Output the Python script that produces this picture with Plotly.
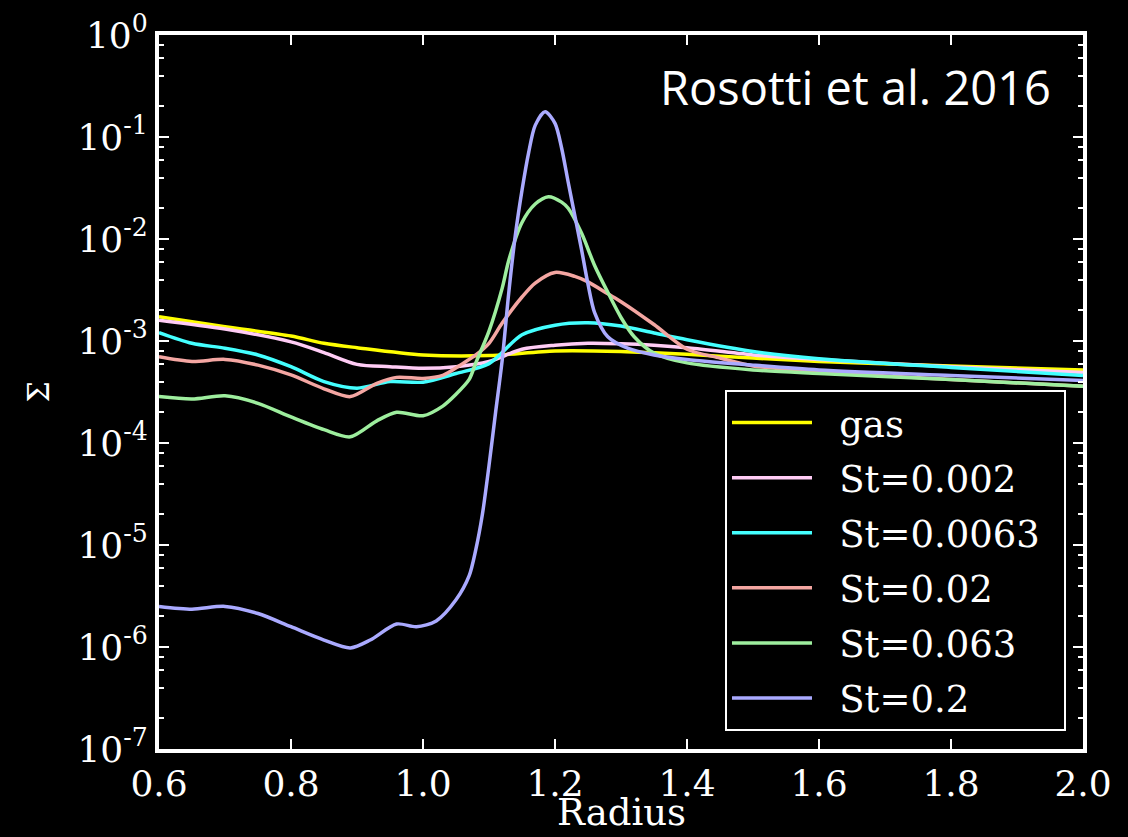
import plotly.graph_objects as go

# ---------------- data ----------------
gas_r = [0.6, 0.7, 0.8, 0.85, 0.9, 1.0, 1.1, 1.2, 1.3, 1.4, 1.5, 1.6, 1.8, 2.0]
gas_sigma = [1.73e-3, 1.38e-3, 1.12e-3, 9.5e-4, 8.6e-4, 7.3e-4, 7.2e-4, 8.0e-4,
             7.9e-4, 7.4e-4, 6.8e-4, 6.3e-4, 5.7e-4, 5.2e-4]

st002_r = [0.6, 0.7, 0.8, 0.85, 0.9, 0.95, 1.0, 1.05, 1.1, 1.15, 1.2, 1.25, 1.3,
           1.35, 1.4, 1.5, 1.6, 1.8, 2.0]
st002_sigma = [1.6e-3, 1.31e-3, 9.8e-4, 7.7e-4, 5.9e-4, 5.6e-4, 5.4e-4, 5.6e-4,
               6.3e-4, 8.3e-4, 9.1e-4, 9.5e-4, 9.4e-4, 9.1e-4, 8.6e-4, 7.3e-4,
               6.6e-4, 5.6e-4, 4.9e-4]

st0063_r = [0.6, 0.65, 0.7, 0.75, 0.8, 0.85, 0.9, 0.95, 1.0, 1.05, 1.1, 1.15,
            1.2, 1.25, 1.3, 1.35, 1.4, 1.5, 1.6, 1.8, 2.0]
st0063_sigma = [1.21e-3, 9.5e-4, 8.5e-4, 7.3e-4, 5.6e-4, 4.0e-4, 3.45e-4, 4.0e-4,
                3.95e-4, 4.8e-4, 6.0e-4, 1.15e-3, 1.43e-3, 1.51e-3, 1.4e-3,
                1.2e-3, 1.03e-3, 7.9e-4, 6.7e-4, 5.5e-4, 4.6e-4]

st02_r = [0.6, 0.65, 0.7, 0.75, 0.8, 0.85, 0.89, 0.93, 0.96, 1.0, 1.03, 1.06,
          1.08, 1.1, 1.12, 1.15, 1.17, 1.2, 1.23, 1.25, 1.28, 1.3, 1.35, 1.4,
          1.45, 1.5, 1.6, 1.8, 2.0]
st02_sigma = [7.0e-4, 6.3e-4, 6.6e-4, 5.8e-4, 4.65e-4, 3.4e-4, 2.85e-4, 3.85e-4,
              4.4e-4, 4.3e-4, 4.6e-4, 6.0e-4, 7.3e-4, 9.5e-4, 1.5e-3, 2.7e-3,
              3.7e-3, 4.7e-3, 4.3e-3, 3.8e-3, 2.9e-3, 2.43e-3, 1.45e-3, 8.3e-4,
              6.8e-4, 5.7e-4, 5.0e-4, 4.2e-4, 3.6e-4]

st063_r = [0.6, 0.65, 0.7, 0.75, 0.8, 0.85, 0.89, 0.93, 0.96, 1.0, 1.03, 1.05,
           1.07, 1.08, 1.1, 1.12, 1.13, 1.15, 1.17, 1.19, 1.21, 1.22, 1.24,
           1.26, 1.28, 1.3, 1.32, 1.35, 1.4, 1.5, 1.6, 1.8, 2.0]
st063_sigma = [2.85e-4, 2.7e-4, 2.9e-4, 2.45e-4, 1.8e-4, 1.35e-4, 1.15e-4,
               1.65e-4, 2.0e-4, 1.85e-4, 2.3e-4, 3.0e-4, 4.2e-4, 6.1e-4,
               1.25e-3, 3.3e-3, 6.2e-3, 1.45e-2, 2.2e-2, 2.6e-2, 2.3e-2,
               2.0e-2, 1.15e-2, 5.5e-3, 3.0e-3, 1.7e-3, 1.1e-3, 7.6e-4, 6.1e-4,
               5.2e-4, 4.8e-4, 4.2e-4, 3.6e-4]

st2_r = [0.6, 0.65, 0.7, 0.75, 0.8, 0.85, 0.89, 0.92, 0.96, 0.99, 1.02, 1.05,
         1.07, 1.08, 1.09, 1.1, 1.11, 1.12, 1.13, 1.14, 1.15, 1.16, 1.17,
         1.185, 1.2, 1.21, 1.22, 1.23, 1.24, 1.25, 1.26, 1.28, 1.31, 1.35,
         1.4, 1.5, 1.6, 1.8, 2.0]
st2_sigma = [2.5e-6, 2.35e-6, 2.5e-6, 2.13e-6, 1.58e-6, 1.17e-6, 9.8e-7, 1.17e-6,
             1.68e-6, 1.58e-6, 1.8e-6, 2.9e-6, 5.0e-6, 9.0e-6, 2.0e-5, 6.0e-5,
             2.0e-4, 6.5e-4, 3.0e-3, 1.1e-2, 3.0e-2, 7.0e-2, 1.3e-1, 1.77e-1,
             1.36e-1, 7.8e-2, 3.6e-2, 1.7e-2, 8.0e-3, 3.6e-3, 1.9e-3, 1.1e-3,
             8.5e-4, 7.3e-4, 6.6e-4, 5.8e-4, 5.2e-4, 4.6e-4, 4.1e-4]

series_names = ["gas", "St=0.002", "St=0.0063", "St=0.02", "St=0.063", "St=0.2"]
series_r = [gas_r, st002_r, st0063_r, st02_r, st063_r, st2_r]
series_sigma = [gas_sigma, st002_sigma, st0063_sigma, st02_sigma, st063_sigma, st2_sigma]
series_colors = ["#FFFF00", "#FFCCF5", "#44FFFF", "#F4A6A2", "#9EEE9E", "#AAAAFF"]

x_tick_vals = [0.6, 0.8, 1.0, 1.2, 1.4, 1.6, 1.8, 2.0]
x_tick_text = ["0.6", "0.8", "1.0", "1.2", "1.4", "1.6", "1.8", "2.0"]
y_tick_vals = [1e-7, 1e-6, 1e-5, 1e-4, 1e-3, 1e-2, 1e-1, 1e0]
y_tick_text = ["10<sup>-7</sup>", "10<sup>-6</sup>", "10<sup>-5</sup>", "10<sup>-4</sup>",
               "10<sup>-3</sup>", "10<sup>-2</sup>", "10<sup>-1</sup>", "10<sup>0</sup>"]
y_minor_vals = [m * 10.0 ** e for e in range(-7, 0) for m in (2, 4, 6, 8)]

annotation_text = "Rosotti et al. 2016"
x_title = "Radius"
y_title = "Σ"

# ---------------- figure ----------------
SERIF = "DejaVu Serif"
LEAD = "\u2002\u200a"   # gap between legend line sample and label
TRAIL = "\u2002"        # right padding inside legend box
fig = go.Figure()
for name, r, s, c in zip(series_names, series_r, series_sigma, series_colors):
    fig.add_trace(go.Scatter(
        x=r, y=s, mode="lines", name=LEAD + name + TRAIL, legendgroup=name,
        line=dict(color=c, width=3.5, shape="spline", smoothing=0.8),
    ))

axis_common = dict(
    showline=True, linecolor="white", linewidth=4, mirror="allticks",
    ticks="inside", ticklen=10, tickwidth=1.5, tickcolor="white",
    showgrid=False, zeroline=False,
    tickfont=dict(family=SERIF, size=36, color="white"),
)

fig.update_xaxes(
    range=[0.6, 2.0], tickmode="array", tickvals=x_tick_vals, ticktext=x_tick_text,
    **axis_common,
)
fig.update_yaxes(
    type="log", range=[-7, 0], tickmode="array", tickvals=y_tick_vals, ticktext=y_tick_text,
    minor=dict(tickmode="array", tickvals=y_minor_vals, ticks="inside", ticklen=5,
               tickwidth=1.5, tickcolor="white", showgrid=False),
    title=dict(text=y_title, font=dict(family=SERIF, size=30, color="white"), standoff=20),
    **axis_common,
)

# x-axis title (placed as paper annotation so it sits like the reference)
fig.add_annotation(
    text=x_title, xref="paper", yref="paper", x=0.5, y=-0.1215,
    xanchor="center", yanchor="bottom", showarrow=False,
    font=dict(family=SERIF, size=37, color="white"),
)

fig.add_annotation(
    text=annotation_text, xref="paper", yref="paper", x=0.967, y=0.927,
    xanchor="right", yanchor="middle", showarrow=False,
    font=dict(family="Open Sans", size=47, color="white"),
)

fig.update_layout(
    width=1128, height=837,
    paper_bgcolor="black", plot_bgcolor="black",
    margin=dict(l=159, r=45, t=35, b=88, autoexpand=False),
    font=dict(family=SERIF, color="white"),
    legend=dict(
        x=0.9816, y=0.0252, xanchor="right", yanchor="bottom",
        bgcolor="black", bordercolor="white", borderwidth=2,
        font=dict(family=SERIF, size=37, color="white"),
        itemwidth=80, tracegroupgap=4,
    ),
)

fig.write_html("out.html", config={"displayModeBar": False},
               post_script="document.body.style.margin='0';")
